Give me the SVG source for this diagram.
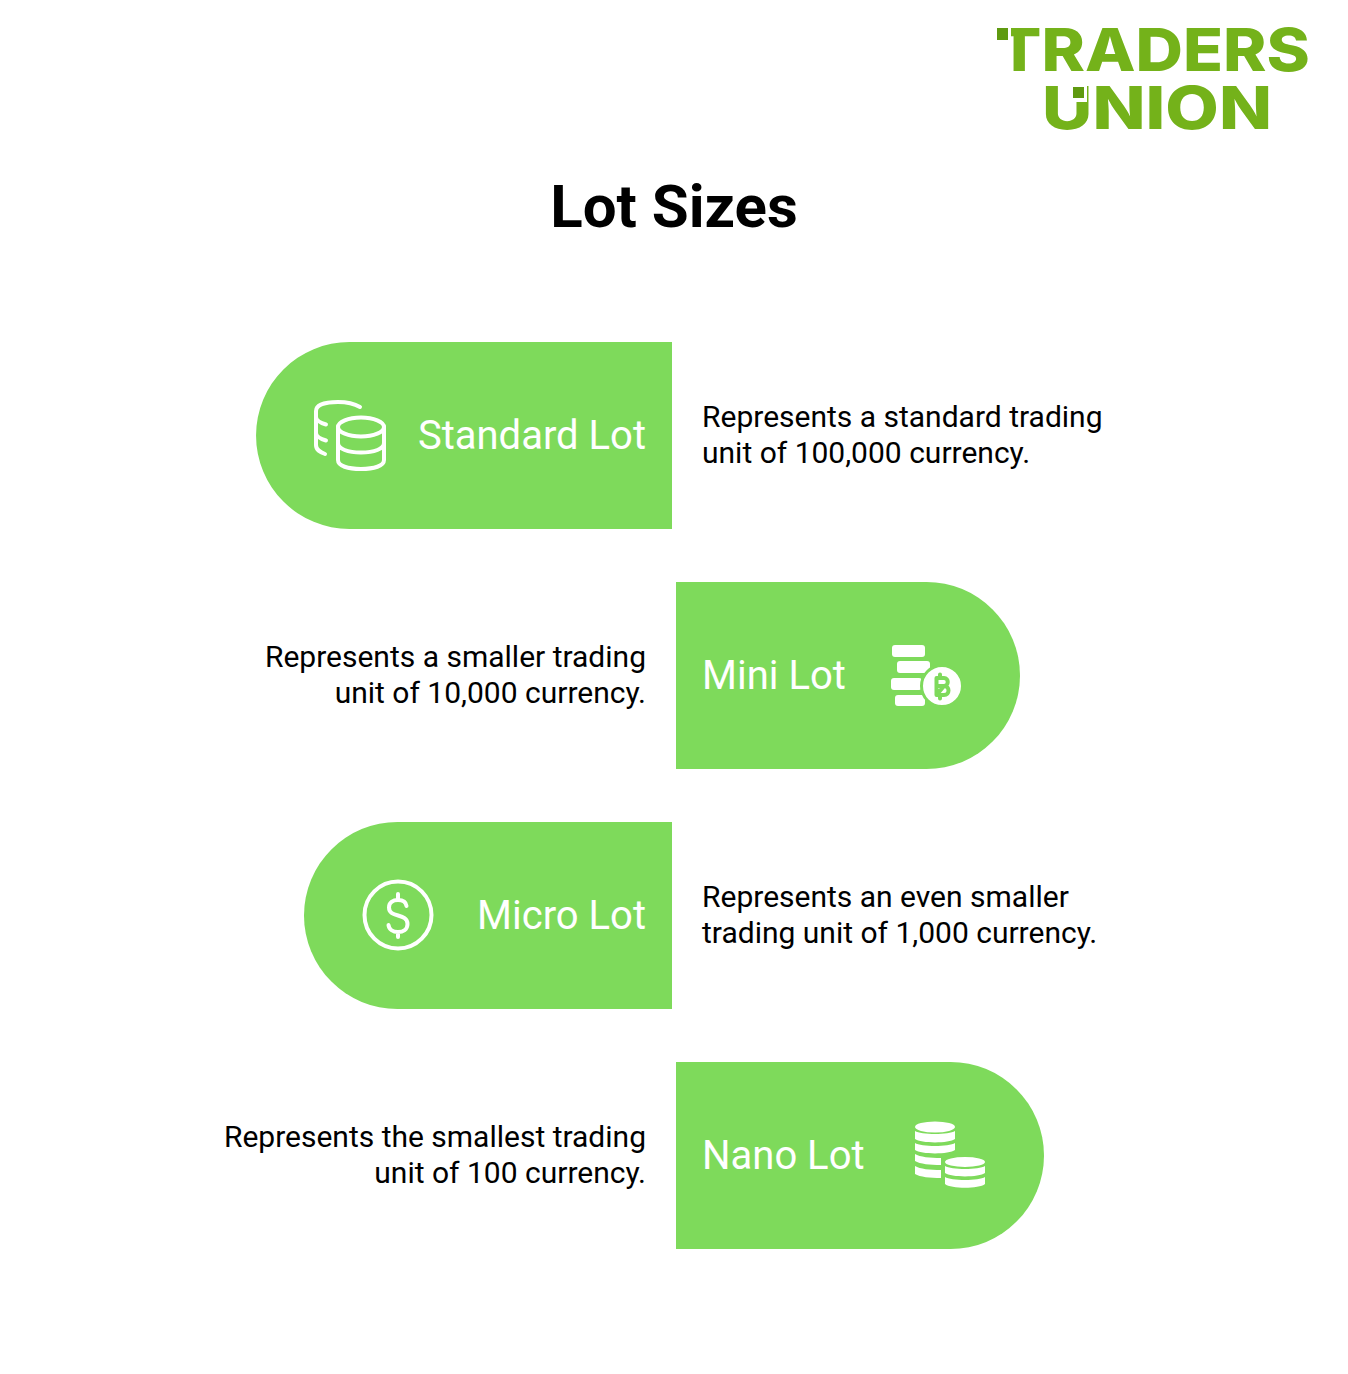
<svg xmlns="http://www.w3.org/2000/svg" width="1348" height="1374" viewBox="0 0 1348 1374">
<style>
.pill{fill:#7eda5b}
.lab{font:400 40px Roboto,"Liberation Sans",sans-serif;fill:#fff}
.desc{font:400 30px Roboto,"Liberation Sans",sans-serif;fill:#000}
.end{text-anchor:end}
.logo{font:800 59px Inter,"Liberation Sans",sans-serif;fill:#74b21a}
.i{fill:none;stroke:#fff;stroke-width:4;stroke-linecap:round;stroke-linejoin:round}
.f{fill:#fff}
</style>
<rect width="1348" height="1374" fill="#fff"/>
<g id="logo">
<text class="logo" x="997" y="71" textLength="313" lengthAdjust="spacingAndGlyphs">TRADERS</text>
<rect x="990" y="24" width="21" height="20" fill="#fff"/>
<rect x="997" y="28" width="11" height="12" fill="#5f9a10"/>
<text class="logo" x="1042" y="129" textLength="230" lengthAdjust="spacingAndGlyphs">UNION</text>
<rect x="1070" y="84" width="17" height="18" fill="#fff"/>
<rect x="1073" y="87" width="11" height="11" fill="#5f9a10"/>
</g>
<text id="title" x="674" y="227" text-anchor="middle" style="font:700 60px Roboto,'Liberation Sans',sans-serif;fill:#000">Lot Sizes</text>
<g id="standard">
<path class="pill" d="M672 342V529H349.500A93.500 93.500 0 0 1 349.500 342Z"/>
<text class="lab" x="646" y="449" text-anchor="end">Standard Lot</text>
<g class="i">
<ellipse cx="361" cy="427" rx="23" ry="9.500"/>
<path d="M338 427V460C338 466 348 469 361 469S384 466 384 460V427M338 443C338 449 348 452.500 361 452.500S384 449 384 443"/>
<path d="M360 407C354 403.500 347 402 338 402C325 402 316 405 316 411V445C316 450 320 452 325 454M316 417C316 421 321 423 326 424.500M316 433C316 437 321 439 326 440.500"/>
</g>
<text class="desc" x="702" y="427">Represents a standard trading</text>
<text class="desc" x="702" y="463">unit of 100,000 currency.</text>
</g>
<g id="mini">
<path class="pill" d="M676 582V769H926.500A93.500 93.500 0 0 0 926.500 582Z"/>
<text class="lab" x="702" y="689">Mini Lot</text>
<g class="f">
<rect x="892" y="645" width="33" height="12" rx="3"/>
<rect x="897" y="661" width="33" height="12" rx="3"/>
<rect x="891" y="678" width="31" height="12" rx="3"/>
<rect x="895" y="695" width="30" height="11" rx="3"/>
<circle cx="942" cy="686" r="20.500" stroke="#7eda5b" stroke-width="3"/>
</g>
<path d="M936.500 678H944C949 678 949 686 944 686H936.500M944 686C950 686 950 695 944 695H936.500ZM936.500 678V695M940 674.500V678M940 695V698.500" fill="none" stroke="#7eda5b" stroke-width="4" stroke-linejoin="round" stroke-linecap="round"/>
<text class="desc end" x="646" y="667">Represents a smaller trading</text>
<text class="desc end" x="646" y="703">unit of 10,000 currency.</text>
</g>
<g id="micro">
<path class="pill" d="M672 822V1009H397.500A93.500 93.500 0 0 1 397.500 822Z"/>
<text class="lab" x="646" y="929" text-anchor="end">Micro Lot</text>
<g class="i">
<circle cx="398" cy="915" r="33.500"/>
<path d="M406.500 906C406 902 402.500 900 398 900C393 900 389 902.500 389 907.500C389 918.500 407.500 912.500 407.500 924C407.500 929.500 403 932 398 932C393 932 389 929.500 388.500 925M398 894V900M398 932V937"/>
</g>
<text class="desc" x="702" y="907">Represents an even smaller</text>
<text class="desc" x="702" y="943">trading unit of 1,000 currency.</text>
</g>
<g id="nano">
<path class="pill" d="M676 1062V1249H950.500A93.500 93.500 0 0 0 950.500 1062Z"/>
<text class="lab" x="702" y="1169">Nano Lot</text>
<g class="f">
<ellipse cx="935" cy="1127" rx="20" ry="5.500"/>
<path d="M915 1131C921 1135 949 1135 955 1131V1139C949 1143.500 921 1143.500 915 1139Z"/>
<path d="M915 1143C921 1147 949 1147 955 1143V1150C949 1154.500 921 1154.500 915 1150Z"/>
<path d="M915 1154C920 1157 930 1158 941 1158V1165C930 1165 920 1164 915 1161Z"/>
<path d="M915 1166C920 1169 930 1170 941 1170V1178C930 1178 920 1177 915 1174Z"/>
<ellipse cx="965" cy="1162" rx="20" ry="5"/>
<path d="M945 1166C951 1170 979 1170 985 1166V1173C979 1177.500 951 1177.500 945 1173Z"/>
<path d="M945 1177C951 1181 979 1181 985 1177V1184C979 1189 951 1189 945 1184Z"/>
</g>
<text class="desc end" x="646" y="1147">Represents the smallest trading</text>
<text class="desc end" x="646" y="1183">unit of 100 currency.</text>
</g>
</svg>
